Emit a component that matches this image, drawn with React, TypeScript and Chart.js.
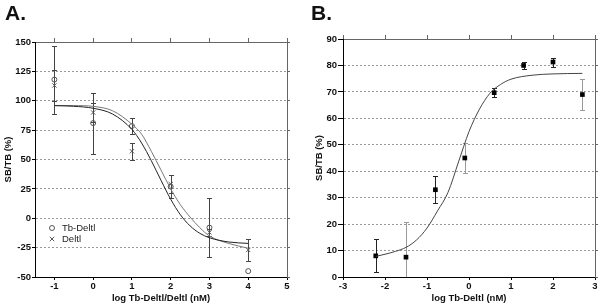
import React, { useEffect, useRef } from 'react';
import { Chart, registerables } from 'chart.js';
Chart.register(...registerables);

const FONT = "'Liberation Sans', Arial, Helvetica, sans-serif";

// ---------- Panel A data ----------
const xA = [-1, 0, 1, 2, 3, 4];
const tbDeltlY = [118, 81, 78.5, 27, -8, -45];
const tbDeltlErr = [29, 26, 6.5, 10, 25, 0];
const deltlY = [113, 90, 57, 29, -12, -27];
const deltlErr = [13, 8, 7, 7.5, 3, 9];
const fitAX = [-1, -0.5, 0, 0.5, 1, 1.25, 1.5, 1.75, 2, 2.25, 2.5, 2.75, 3, 3.5, 4];
const fitA1 = [95.8, 95.3, 93.6, 88.7, 75.6, 64, 49, 32.3, 16.2, 3, -6.5, -12.8, -16.6, -20.2, -21.4];
const fitA2 = [96, 95.9, 95.2, 91.5, 80, 71.5, 57, 41, 25, 11.5, 1, -8, -15, -21.5, -25.5];
const xTicksA = [-1, 0, 1, 2, 3, 4, 5];
const legendA = ['Tb-Deltl', 'Deltl'];

// ---------- Panel B data ----------
const xB = [-2.22, -1.5, -0.8, -0.1, 0.6, 1.3, 2.0, 2.7];
const yB = [8, 7.5, 33, 45, 69.7, 80, 81.3, 69];
const errB = [6.2, 13.2, 5.2, 5.8, 1.7, 1.4, 1.7, 5.7];
const errBColors = ['#222', '#999', '#222', '#999', '#222', '#222', '#222', '#999'];
const fitBX = [-2.22, -2, -1.75, -1.5, -1.25, -1, -0.75, -0.5, -0.25, 0, 0.25, 0.5, 0.75, 1, 1.5, 2, 2.7];
const fitBY = [7.8, 8.6, 9.7, 11.2, 14, 18.5, 25, 32, 43.5, 55, 63.5, 69.5, 72.8, 74.8, 76.3, 76.8, 77];
const xTicksB = [-3, -2, -1, 0, 1, 2, 3];

type Bar = { x: number; y: number; e: number; color: string };

function errorBarPlugin(bars: Bar[], cap: number) {
  return {
    id: 'errbars',
    beforeDatasetsDraw(chart: any) {
      const { ctx, chartArea, scales } = chart;
      ctx.save();
      ctx.beginPath();
      ctx.rect(chartArea.left, chartArea.top - 1, chartArea.right - chartArea.left, chartArea.bottom - chartArea.top + 1);
      ctx.clip();
      for (const b of bars) {
        if (!b.e) continue;
        const px = Math.round(scales.x.getPixelForValue(b.x)) + 0.5;
        const y1 = Math.round(scales.y.getPixelForValue(b.y + b.e)) + 0.5;
        const y2 = Math.round(scales.y.getPixelForValue(b.y - b.e)) + 0.5;
        ctx.strokeStyle = b.color;
        ctx.lineWidth = 1;
        ctx.beginPath();
        ctx.moveTo(px, y1);
        ctx.lineTo(px, y2);
        ctx.moveTo(px - cap, y1);
        ctx.lineTo(px + cap, y1);
        ctx.moveTo(px - cap, y2);
        ctx.lineTo(px + cap, y2);
        ctx.stroke();
      }
      ctx.restore();
    },
  };
}

const legendPluginA = {
  id: 'legendA',
  afterDraw(chart: any) {
    const { ctx, chartArea } = chart;
    const x0 = chartArea.left + 17;
    const y0 = chartArea.top + 186;
    ctx.save();
    ctx.strokeStyle = '#555';
    ctx.lineWidth = 1;
    ctx.beginPath();
    ctx.arc(x0, y0, 2.5, 0, Math.PI * 2);
    ctx.stroke();
    const y1 = y0 + 11;
    ctx.beginPath();
    ctx.moveTo(x0 - 2.2, y1 - 2.2);
    ctx.lineTo(x0 + 2.2, y1 + 2.2);
    ctx.moveTo(x0 + 2.2, y1 - 2.2);
    ctx.lineTo(x0 - 2.2, y1 + 2.2);
    ctx.stroke();
    ctx.fillStyle = '#222';
    ctx.font = `9.5px ${FONT}`;
    ctx.textBaseline = 'middle';
    ctx.fillText(legendA[0], x0 + 10, y0);
    ctx.fillText(legendA[1], x0 + 10, y1);
    ctx.restore();
  },
};

const tickFont = { family: FONT, size: 9.5, weight: 'bold' as const };

function axes(opts: {
  xmin: number; xmax: number; xticks: number[]; ymin: number; ymax: number; ystep: number;
  xtitle: string; ytitlePad: number; ytick: number; yWidth: number; xTitlePad: number;
}) {
  const setTicks = (s: any) => { s.ticks = opts.xticks.map((v) => ({ value: v })); };
  return {
    x: {
      type: 'linear', position: 'bottom', min: opts.xmin, max: opts.xmax,
      afterBuildTicks: setTicks,
      grid: { display: true, drawOnChartArea: false, drawTicks: true, tickLength: 3, tickColor: '#000' },
      border: { display: true, color: '#000', width: 1 },
      ticks: { font: tickFont, color: '#111', padding: 1, autoSkip: false, maxRotation: 0 },
      title: { display: true, text: opts.xtitle, font: tickFont, color: '#111', padding: { top: 0, bottom: opts.xTitlePad } },
      afterFit: (s: any) => { s.height = 29; },
    },
    x2: {
      type: 'linear', position: 'top', min: opts.xmin, max: opts.xmax,
      afterBuildTicks: setTicks,
      grid: { display: true, drawOnChartArea: false, drawTicks: true, tickLength: 4, tickColor: '#666' },
      border: { display: true, color: '#666', width: 1 },
      ticks: { display: false },
      afterFit: (s: any) => { s.height = 4; },
    },
    y: {
      type: 'linear', position: 'left', min: opts.ymin, max: opts.ymax,
      ticks: { stepSize: opts.ystep, font: tickFont, color: '#111', padding: 1 },
      grid: {
        display: true, drawOnChartArea: true, drawTicks: true, tickLength: opts.ytick, tickColor: '#000',
        color: (c: any) => (c.tick && (c.tick.value === opts.ymin || c.tick.value === opts.ymax) ? 'rgba(0,0,0,0)' : '#9a9a9a'),
      },
      border: { display: true, color: '#000', width: 1, dash: [2, 2] },
      title: { display: true, text: 'SB/TB (%)', font: tickFont, color: '#111', padding: { top: opts.ytitlePad, bottom: 0 } },
      afterFit: (s: any) => { s.width = opts.yWidth; },
    },
    y2: {
      type: 'linear', position: 'right', min: opts.ymin, max: opts.ymax,
      ticks: { display: false, stepSize: opts.ystep },
      grid: { display: true, drawOnChartArea: false, drawTicks: true, tickLength: 3, tickColor: '#666' },
      border: { display: true, color: '#666', width: 1 },
      afterFit: (s: any) => { s.width = 3; },
    },
  };
}

function PanelA() {
  const ref = useRef<HTMLCanvasElement>(null);
  useEffect(() => {
    const bars: Bar[] = [];
    xA.forEach((x, i) => {
      bars.push({ x, y: tbDeltlY[i], e: tbDeltlErr[i], color: '#444' });
      bars.push({ x, y: deltlY[i], e: deltlErr[i], color: '#444' });
    });
    const chart = new Chart(ref.current!, {
      type: 'scatter',
      data: {
        datasets: [
          {
            label: 'fit1', data: fitAX.map((x, i) => ({ x, y: fitA1[i] })), showLine: true,
            borderColor: '#222', borderWidth: 1, pointRadius: 0, cubicInterpolationMode: 'monotone',
          } as any,
          {
            label: 'fit2', data: fitAX.map((x, i) => ({ x, y: fitA2[i] })), showLine: true,
            borderColor: '#777', borderWidth: 1, pointRadius: 0, cubicInterpolationMode: 'monotone',
          } as any,
          {
            label: legendA[0], data: xA.map((x, i) => ({ x, y: tbDeltlY[i] })),
            pointStyle: 'circle', pointRadius: 2.5, borderColor: '#555', backgroundColor: 'rgba(0,0,0,0)', borderWidth: 1,
          },
          {
            label: legendA[1], data: xA.map((x, i) => ({ x, y: deltlY[i] })),
            pointStyle: 'crossRot', pointRadius: 3, borderColor: '#555', borderWidth: 1,
          },
        ],
      },
      options: {
        responsive: false, animation: false, events: [],
        layout: { padding: { left: 0, right: 10, top: 38, bottom: 0 } },
        plugins: { legend: { display: false }, tooltip: { enabled: false } },
        scales: axes({
          xmin: -1.5, xmax: 5, xticks: xTicksA, ymin: -50, ymax: 150, ystep: 25,
          xtitle: 'log Tb-Deltl/Deltl (nM)', ytitlePad: 2.6, ytick: 3, yWidth: 35, xTitlePad: 1.5,
        }) as any,
      },
      plugins: [errorBarPlugin(bars, 2.5), legendPluginA],
    });
    return () => chart.destroy();
  }, []);
  return <canvas ref={ref} width={300} height={306} style={{ position: 'absolute', left: 0, top: 0, width: 300, height: 306 }} />;
}

function PanelB() {
  const ref = useRef<HTMLCanvasElement>(null);
  useEffect(() => {
    const bars: Bar[] = xB.map((x, i) => ({ x, y: yB[i], e: errB[i], color: errBColors[i] }));
    const chart = new Chart(ref.current!, {
      type: 'scatter',
      data: {
        datasets: [
          {
            label: 'fit', data: fitBX.map((x, i) => ({ x, y: fitBY[i] })), showLine: true,
            borderColor: '#444', borderWidth: 1, pointRadius: 0, cubicInterpolationMode: 'monotone',
          } as any,
          {
            label: 'Tb-Deltl', data: xB.map((x, i) => ({ x, y: yB[i] })),
            pointStyle: 'rect', pointRadius: 3.3, borderColor: '#000', backgroundColor: '#000', borderWidth: 0,
          },
        ],
      },
      options: {
        responsive: false, animation: false, events: [],
        layout: { padding: { left: 0, right: 2, top: 35, bottom: 0 } },
        plugins: { legend: { display: false }, tooltip: { enabled: false } },
        scales: axes({
          xmin: -3, xmax: 3, xticks: xTicksB, ymin: 0, ymax: 90, ystep: 10,
          xtitle: 'log Tb-Deltl (nM)', ytitlePad: 13.3, ytick: 5, yWidth: 43, xTitlePad: 2,
        }) as any,
      },
      plugins: [errorBarPlugin(bars, 2.5)],
    });
    return () => chart.destroy();
  }, []);
  return <canvas ref={ref} width={300} height={306} style={{ position: 'absolute', left: 300, top: 0, width: 300, height: 306 }} />;
}

export default function App() {
  const label: React.CSSProperties = {
    position: 'absolute', top: 2, fontFamily: FONT, fontWeight: 'bold', fontSize: 21, lineHeight: '21px', color: '#111',
  };
  return (
    <div style={{ position: 'absolute', left: 0, top: 0, width: 600, height: 306, background: '#fff', overflow: 'hidden' }}>
      <PanelA />
      <PanelB />
      <div style={{ ...label, left: 5 }}>A.</div>
      <div style={{ ...label, left: 311 }}>B.</div>
    </div>
  );
}
